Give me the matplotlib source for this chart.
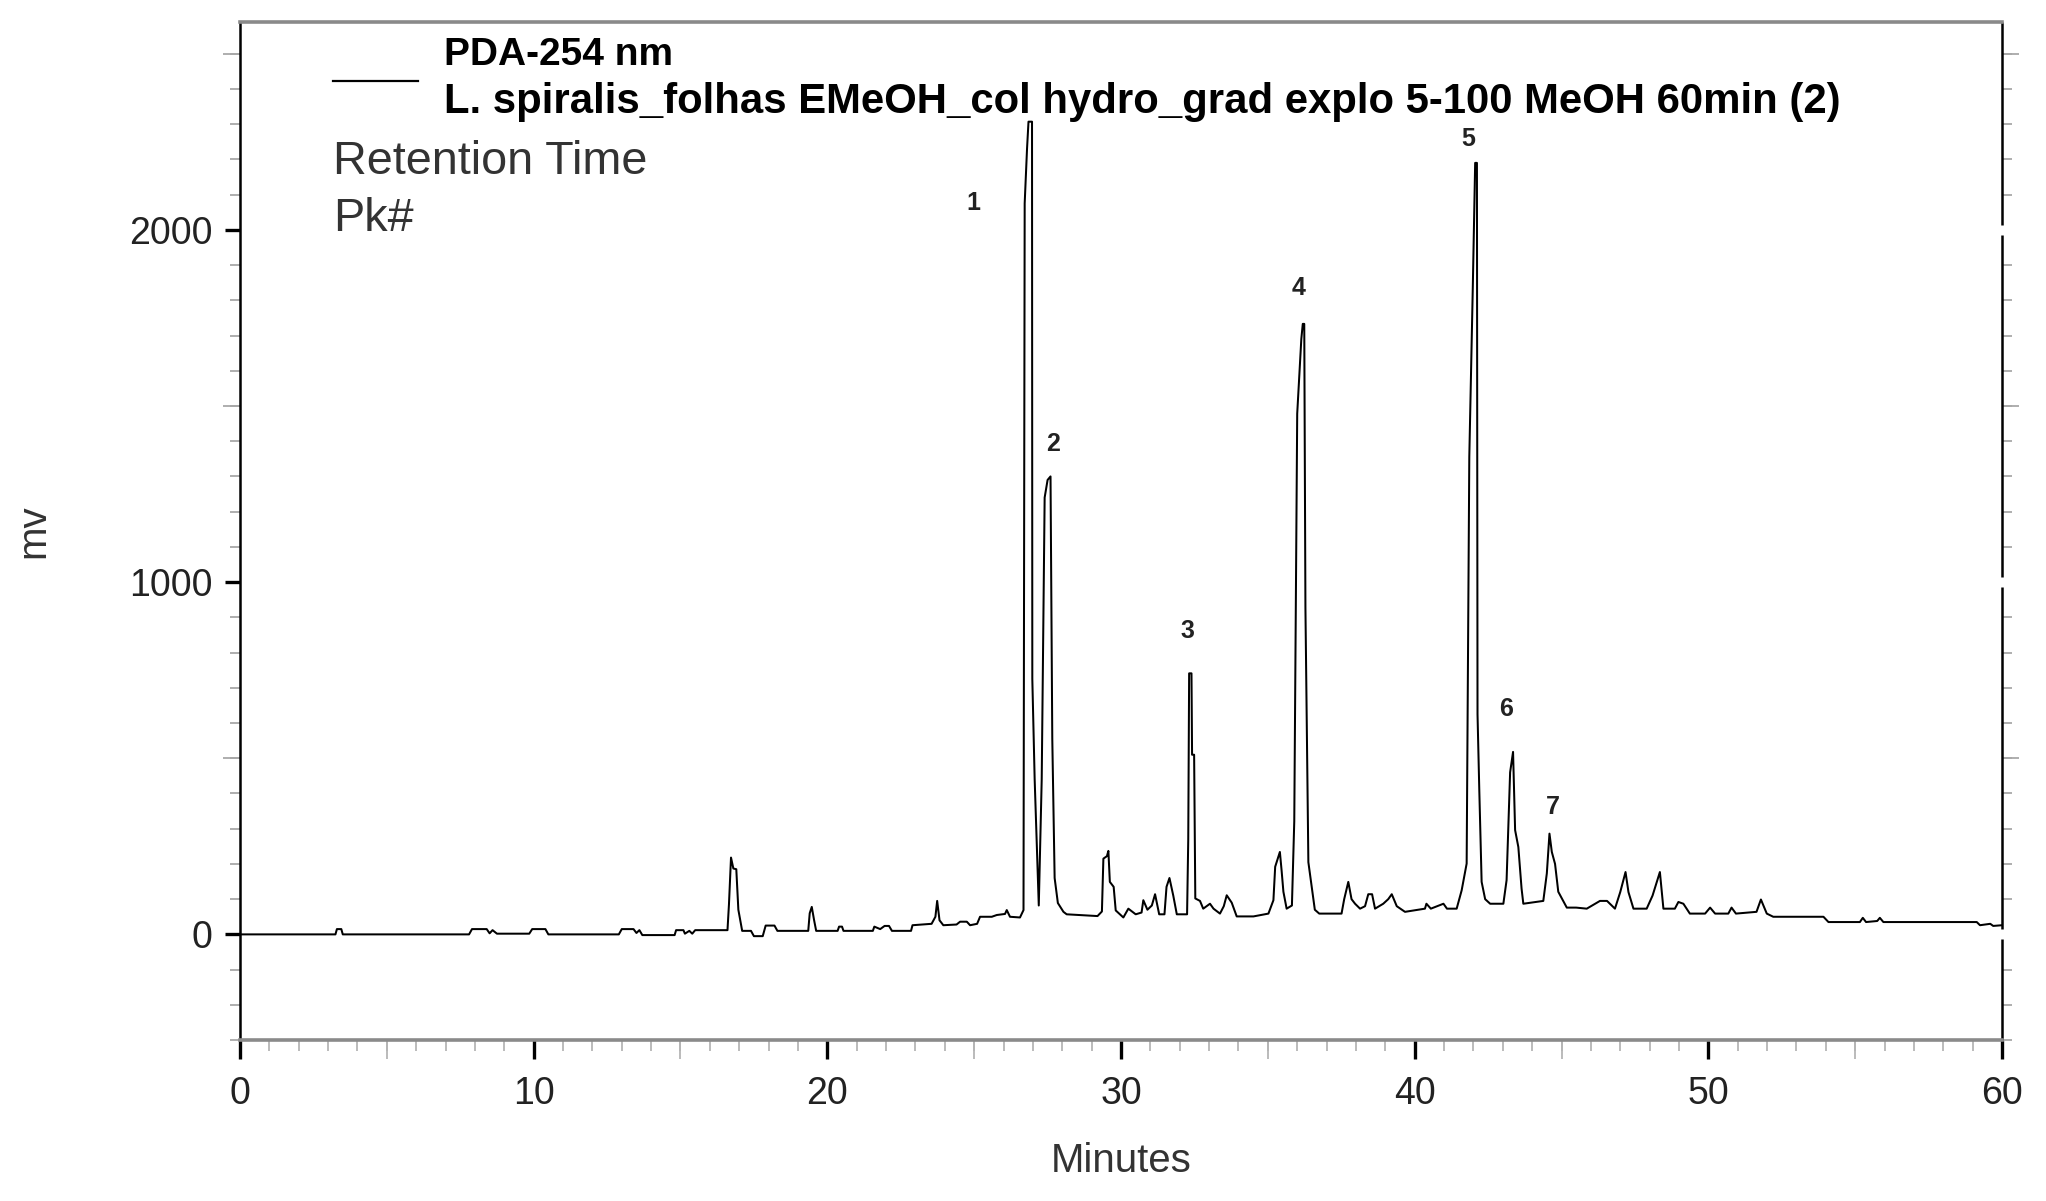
import numpy as np
import matplotlib
matplotlib.use('Agg')
import matplotlib.pyplot as plt
from matplotlib.ticker import MultipleLocator, FixedLocator

plt.rcParams['font.family'] = ['Liberation Sans', 'DejaVu Sans']

# chromatogram trace (minutes, mV)
minutes = [0.0, 3.25, 3.3, 3.45, 3.5, 7.8, 7.9, 8.4, 8.5, 8.6, 8.75, 9.85, 9.95, 10.4, 10.5,
           12.9, 13.0, 13.4, 13.5, 13.6, 13.7, 14.8, 14.85, 15.1, 15.15, 15.3, 15.4, 15.5,
           16.6, 16.65, 16.72, 16.8, 16.9, 16.97, 17.1, 17.4, 17.5, 17.8, 17.9, 18.2, 18.3,
           19.35, 19.4, 19.47, 19.55, 19.62, 20.35, 20.4, 20.5, 20.55, 21.55, 21.6, 21.8,
           21.95, 22.1, 22.2, 22.85, 22.9, 23.55, 23.68, 23.74, 23.82, 23.95, 24.4, 24.52,
           24.75, 24.86, 25.1, 25.2, 25.6, 25.77, 26.05, 26.11, 26.22, 26.56, 26.68,
           26.72, 26.8, 26.85, 26.97, 26.98, 27.06, 27.2, 27.3, 27.4, 27.5, 27.6, 27.66,
           27.74, 27.85, 28.04, 28.15,
           29.2, 29.35, 29.4, 29.52, 29.57, 29.62, 29.75, 29.82, 30.08, 30.25, 30.5, 30.7,
           30.76, 30.9, 31.05, 31.16, 31.3, 31.48, 31.55, 31.65, 31.78, 31.9, 32.25, 32.29,
           32.32, 32.4, 32.42, 32.49, 32.53, 32.69, 32.8, 33.03, 33.15, 33.37, 33.5, 33.6,
           33.77, 33.94, 34.51, 35.02, 35.19, 35.25, 35.41, 35.47, 35.53, 35.64, 35.82,
           35.9, 36.0, 36.14, 36.19, 36.24, 36.28, 36.38, 36.6, 36.75, 37.51, 37.6, 37.74,
           37.85, 37.97, 38.14, 38.31, 38.42, 38.55, 38.65, 38.93, 39.1, 39.22, 39.39, 39.67,
           40.35, 40.4, 40.55, 40.98, 41.1, 41.43, 41.6, 41.77, 41.86, 41.98, 42.06, 42.12,
           42.14, 42.2, 42.28, 42.4, 42.57, 43.02, 43.13, 43.25, 43.35, 43.42, 43.53, 43.64,
           43.7, 44.38, 44.5, 44.59, 44.67, 44.78, 44.89, 45.18, 45.5, 45.86, 46.31, 46.55,
           46.82, 47.0, 47.18, 47.28, 47.45, 47.9, 48.1, 48.35, 48.47, 48.86, 48.98, 49.15,
           49.37, 49.89, 50.06, 50.23, 50.68, 50.79, 50.94, 51.64, 51.79, 51.99, 52.21,
           53.92, 54.09, 55.16, 55.26, 55.37, 55.75, 55.84, 55.96, 59.14, 59.25, 59.6,
           59.7, 60.0]
mv = [0, 0, 15, 15, 0, 0, 15, 15, 3, 12, 2, 2, 15, 15, 0,
      0, 15, 15, 4, 12, -2, -2, 12, 12, 2, 10, 2, 12,
      12, 85, 218, 187, 185, 70, 10, 10, -5, -5, 25, 25, 10,
      10, 60, 78, 40, 10, 10, 22, 22, 10, 10, 22, 15,
      24, 24, 10, 10, 26, 30, 50, 95, 40, 26, 28, 36,
      36, 26, 30, 50, 50, 55, 58, 69, 50, 48, 69,
      2075, 2230, 2307, 2307, 725, 440, 82, 440, 1240, 1290, 1300, 555,
      160, 89, 64, 57,
      52, 65, 215, 222, 237, 149, 135, 68, 48, 73, 57, 62,
      97, 70, 82, 114, 57, 57, 135, 160, 110, 57, 57, 270,
      741, 741, 510, 510, 102, 95, 73, 87, 73, 59, 80, 111,
      90, 51, 51, 59, 97, 192, 234, 180, 121, 73, 82,
      321, 1478, 1690, 1733, 1733, 928, 205, 70, 59, 59, 100, 149,
      100, 87, 73, 80, 114, 114, 73, 87, 100, 114, 80, 64,
      73, 87, 73, 87, 73, 73, 125, 201, 1355, 1840, 2190, 2190,
      625, 411, 149, 100, 87, 87, 154, 460, 518, 296, 248, 130,
      87, 95, 173, 286, 234, 200, 121, 76, 76, 73, 95, 95,
      73, 120, 177, 120, 73, 73, 110, 177, 73, 73, 92, 87,
      59, 59, 76, 59, 59, 76, 59, 64, 99, 59, 50,
      50, 35, 35, 47, 35, 38, 47, 35, 35, 26, 30,
      24, 26]

# peak numbers and where they sit
peak_ids = ['1', '2', '3', '4', '5', '6', '7']
peak_t = [24.98, 27.69, 32.25, 36.05, 41.83, 43.10, 44.70]
peak_v = [2075, 1391, 860, 1836, 2258, 641, 362]

legend_title = 'PDA-254 nm'
legend_run = 'L. spiralis_folhas EMeOH_col hydro_grad explo 5-100 MeOH 60min (2)'
legend_extra = ['Retention Time', 'Pk#']

txt = '#222222'
fig = plt.figure(figsize=(20.46, 12.01), dpi=100)
ax = fig.add_axes([0.1173, 0.134, 0.8612, 0.8477])

ax.plot(minutes, mv, color='black', lw=1.45)

for s, t, v in zip(peak_ids, peak_t, peak_v):
    ax.text(t, v, s, fontsize=18, fontweight='bold', ha='center', va='center', color=txt)

ax.set_xlim(0, 60)
ax.set_ylim(-300, 2590)

ax.xaxis.set_major_locator(MultipleLocator(10))
ax.xaxis.set_minor_locator(MultipleLocator(1))
ax.yaxis.set_major_locator(MultipleLocator(1000))
ax.yaxis.set_minor_locator(MultipleLocator(100))

ax.tick_params(axis='x', which='major', direction='out', length=14, width=2.4,
               color='black', labelsize=27, labelcolor=txt, pad=12)
ax.tick_params(axis='x', which='minor', direction='out', length=8, width=1.3, color='#b5b5b5')
ax.tick_params(axis='y', which='major', direction='out', length=11, width=2.4,
               color='black', labelsize=27, labelcolor=txt, pad=9, right=False)
ax.tick_params(axis='y', which='minor', direction='out', length=7, width=1.3,
               color='#a8a8a8', left=True, right=True)

# medium ticks at the halfway marks
sx = ax.secondary_xaxis('bottom')
sx.xaxis.set_major_locator(FixedLocator(np.arange(5, 60, 10)))
sx.tick_params(direction='out', length=14, width=1.3, color='#b5b5b5', labelbottom=False)
for side in ['left', 'right']:
    sy = ax.secondary_yaxis(side)
    sy.yaxis.set_major_locator(FixedLocator([500, 1500, 2500]))
    sy.tick_params(direction='out', length=12, width=1.3, color='#a8a8a8',
                   labelleft=False, labelright=False)
for a in ax.child_axes:
    for sp in a.spines.values():
        sp.set_visible(False)

ax.spines['top'].set_color('#8a8a8a')
ax.spines['top'].set_linewidth(2.6)
ax.spines['bottom'].set_color('#8a8a8a')
ax.spines['bottom'].set_linewidth(2.6)
ax.spines['left'].set_color('black')
ax.spines['left'].set_linewidth(1.8)
ax.spines['right'].set_visible(False)

# right edge is broken where the major ticks would be
ylo, yhi = ax.get_ylim()
breaks = [0, 1000, 2000]
edges = [ylo] + [e for b in breaks for e in (b - 14, b + 14)] + [yhi]
for y0, y1 in zip(edges[::2], edges[1::2]):
    ax.plot([1, 1], [y0, y1], transform=ax.get_yaxis_transform(), color='black',
            lw=1.8, clip_on=False, solid_capstyle='butt')

# legend block
ax.plot([0.0528, 0.101], [0.942, 0.942], transform=ax.transAxes, color='black', lw=1.6)
ax.text(0.1158, 0.9676, legend_title, transform=ax.transAxes, fontsize=28,
        fontweight='bold', va='center', color='black')
ax.text(0.1158, 0.9214, legend_run, transform=ax.transAxes, fontsize=30.2,
        fontweight='bold', va='center', color='black')
ax.text(0.0528, 0.8625, legend_extra[0], transform=ax.transAxes, fontsize=33.7,
        va='center', color='#333333')
ax.text(0.0528, 0.8065, legend_extra[1], transform=ax.transAxes, fontsize=33.7,
        va='center', color='#333333')

ax.set_xlabel('Minutes', fontsize=29, color='#333333')
ax.xaxis.set_label_coords(0.5, -0.119)
ax.xaxis.label.set_va('center')
ax.set_ylabel('mv', fontsize=29, color='#333333')
ax.yaxis.set_label_coords(-0.1175, 0.5)
ax.yaxis.label.set_va('center')

fig.savefig('out.png', dpi=100)
